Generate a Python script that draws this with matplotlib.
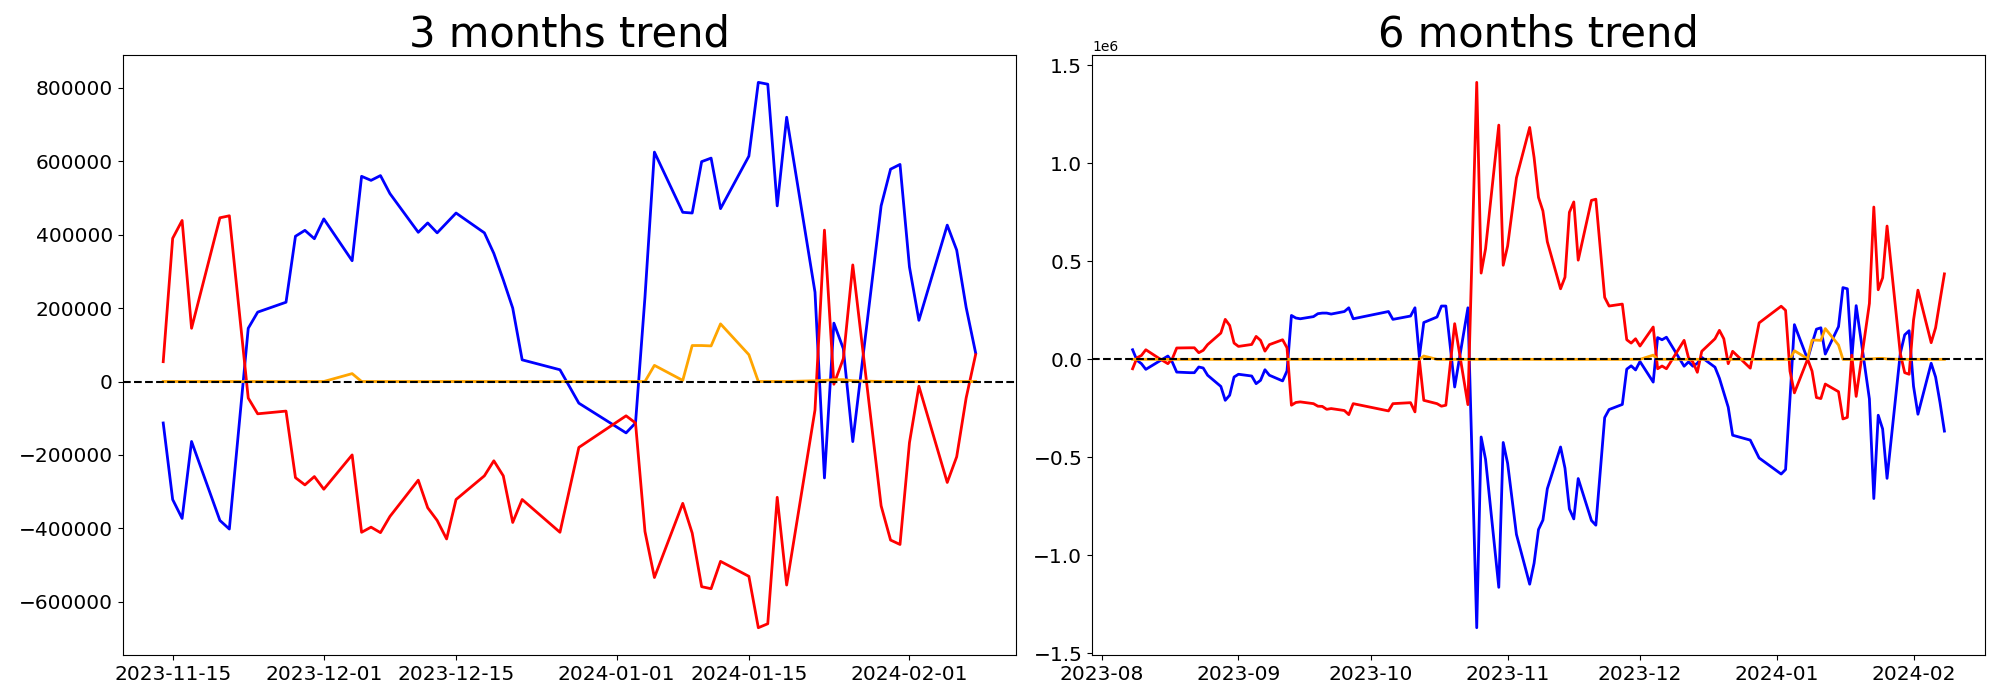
import matplotlib
matplotlib.use('Agg')
import matplotlib.pyplot as plt
import matplotlib.dates as mdates
import numpy as np

# 3 months data
dates_3m = ['2023-11-14', '2023-11-15', '2023-11-16', '2023-11-17', '2023-11-20', '2023-11-21', '2023-11-23', '2023-11-24',
            '2023-11-27', '2023-11-28', '2023-11-29', '2023-11-30', '2023-12-01', '2023-12-04', '2023-12-05', '2023-12-06', '2023-12-07', '2023-12-08',
            '2023-12-11', '2023-12-12', '2023-12-13', '2023-12-14', '2023-12-15', '2023-12-18', '2023-12-19', '2023-12-20', '2023-12-21', '2023-12-22',
            '2023-12-26', '2023-12-28', '2024-01-02', '2024-01-03', '2024-01-04', '2024-01-05', '2024-01-08', '2024-01-09', '2024-01-10', '2024-01-11', '2024-01-12',
            '2024-01-15', '2024-01-16', '2024-01-17', '2024-01-18', '2024-01-19', '2024-01-22', '2024-01-23', '2024-01-24', '2024-01-25', '2024-01-26',
            '2024-01-29', '2024-01-30', '2024-01-31', '2024-02-01', '2024-02-02', '2024-02-05', '2024-02-06', '2024-02-07', '2024-02-08']

red_3m = [54000, 390000, 438700, 145000, 446000, 451500, -45000, -88000,
          -80600, -262000, -281700, -259000, -293500, -200000, -410800, -396800, -411800, -367700,
          -268800, -344000, -378500, -429000, -321500, -257000, -216000, -257000, -384000, -321500,
          -410800, -179600, -93500, -113000, -408600, -534000, -332000, -413000, -559000, -564500, -490000,
          -530800, -670800, -660000, -315500, -554500, -77500, 412400, -7500, 62400, 317600,
          -338700, -432000, -444000, -166700, -12900, -275000, -205000, -45000, 73000]

blue_3m = [-113000, -321500, -373000, -163400, -378500, -402000, 145000, 189000,
           216000, 395700, 411800, 389000, 443000, 329000, 559000, 548000, 561000, 512000,
           406500, 432000, 405000, 432000, 459000, 405000, 349000, 277000, 200000, 59000,
           32000, -59000, -140000, -113000, 230000, 625000, 461000, 459000, 599000, 608600, 471000,
           614000, 815000, 810000, 478500, 720000, 243300, -262700, 159000, 89400, -163700,
           478500, 578500, 591400, 312000, 166700, 426000, 358000, 202000, 78500]

orange_3m = [0, 0, 0, 0, 0, 0, 0, 0,
             0, 0, 0, 0, 0, 21500, 0, 0, 0, 0,
             0, 0, 0, 0, 0, 0, 0, 0, 0, 0,
             0, 0, 0, 0, 0, 44000, 3000, 98000, 98000, 97000, 157000,
             73000, 0, 0, 0, 0, 2000, 3000, 5000, 5000, 2000,
             0, 0, 0, 0, 0, 0, 0, 0, 0]

# 6 months data (values in millions)
dates_6m = ['2023-08-08', '2023-08-09', '2023-08-10', '2023-08-11', '2023-08-14', '2023-08-16', '2023-08-17', '2023-08-18',
            '2023-08-21', '2023-08-22', '2023-08-23', '2023-08-24', '2023-08-25', '2023-08-28', '2023-08-29', '2023-08-30', '2023-08-31', '2023-09-01',
            '2023-09-04', '2023-09-05', '2023-09-06', '2023-09-07', '2023-09-08', '2023-09-11', '2023-09-12', '2023-09-13', '2023-09-14', '2023-09-15',
            '2023-09-18', '2023-09-19', '2023-09-20', '2023-09-21', '2023-09-22', '2023-09-25', '2023-09-26', '2023-09-27', '2023-10-05', '2023-10-06',
            '2023-10-10', '2023-10-11', '2023-10-12', '2023-10-13', '2023-10-16', '2023-10-17', '2023-10-18', '2023-10-20', '2023-10-23', '2023-10-25',
            '2023-10-26', '2023-10-27', '2023-10-30', '2023-10-31', '2023-11-01', '2023-11-03', '2023-11-06', '2023-11-07', '2023-11-08', '2023-11-09', '2023-11-10',
            '2023-11-13', '2023-11-14', '2023-11-15', '2023-11-16', '2023-11-17', '2023-11-20', '2023-11-21', '2023-11-23', '2023-11-24',
            '2023-11-27', '2023-11-28', '2023-11-29', '2023-11-30', '2023-12-01', '2023-12-04', '2023-12-05', '2023-12-06', '2023-12-07',
            '2023-12-11', '2023-12-12', '2023-12-13', '2023-12-14', '2023-12-15', '2023-12-18', '2023-12-19', '2023-12-20', '2023-12-21', '2023-12-22',
            '2023-12-26', '2023-12-28', '2024-01-02', '2024-01-03', '2024-01-04', '2024-01-05', '2024-01-08', '2024-01-09', '2024-01-10', '2024-01-11', '2024-01-12',
            '2024-01-15', '2024-01-16', '2024-01-17', '2024-01-18', '2024-01-19', '2024-01-22', '2024-01-23', '2024-01-24', '2024-01-25', '2024-01-26',
            '2024-01-29', '2024-01-30', '2024-01-31', '2024-02-01', '2024-02-02', '2024-02-05', '2024-02-06', '2024-02-07', '2024-02-08']

red_6m = [-0.048, 0.008, 0.02, 0.049, 0.005, -0.022, 0.003, 0.058,
          0.059, 0.059, 0.034, 0.046, 0.075, 0.134, 0.204, 0.173, 0.083, 0.066,
          0.076, 0.117, 0.097, 0.042, 0.075, 0.1, 0.059, -0.234, -0.22, -0.217,
          -0.226, -0.239, -0.24, -0.255, -0.251, -0.261, -0.282, -0.226, -0.263, -0.226,
          -0.221, -0.268, -0.002, -0.209, -0.226, -0.239, -0.234, 0.182, -0.231, 1.413,
          0.44, 0.564, 1.195, 0.48, 0.578, 0.926, 1.183, 1.03, 0.826, 0.757, 0.6,
          0.36, 0.419, 0.75, 0.803, 0.506, 0.811, 0.817, 0.316, 0.272,
          0.282, 0.1, 0.083, 0.105, 0.068, 0.165, -0.048, -0.034, -0.048,
          0.097, 0.008, -0.014, -0.066, 0.041, 0.105, 0.148, 0.105, -0.022, 0.041,
          -0.045, 0.186, 0.271, 0.25, -0.06, -0.171, 0.001, -0.06, -0.195, -0.2, -0.126,
          -0.165, -0.304, -0.296, 0.021, -0.189, 0.285, 0.777, 0.355, 0.416, 0.68,
          0.03, -0.068, -0.076, 0.2, 0.353, 0.085, 0.161, 0.3, 0.436]

blue_6m = [0.049, -0.005, -0.022, -0.051, -0.01, 0.017, -0.014, -0.065,
           -0.068, -0.068, -0.039, -0.044, -0.081, -0.138, -0.209, -0.183, -0.09, -0.076,
           -0.085, -0.124, -0.107, -0.053, -0.081, -0.11, -0.059, 0.224, 0.211, 0.207,
           0.218, 0.233, 0.236, 0.236, 0.231, 0.244, 0.263, 0.207, 0.244, 0.204,
           0.221, 0.263, 0.012, 0.188, 0.216, 0.272, 0.272, -0.141, 0.263, -1.369,
           -0.396, -0.51, -1.163, -0.424, -0.53, -0.893, -1.147, -1.04, -0.868, -0.82, -0.66,
           -0.447, -0.555, -0.763, -0.814, -0.608, -0.822, -0.846, -0.297, -0.256,
           -0.23, -0.05, -0.033, -0.054, -0.011, -0.116, 0.111, 0.1, 0.113,
           -0.035, -0.013, -0.035, -0.02, 0.01, -0.04, -0.096, -0.17, -0.244, -0.387,
           -0.412, -0.503, -0.585, -0.562, -0.2, 0.177, 0.0, 0.08, 0.154, 0.161, 0.027,
           0.167, 0.366, 0.36, 0.004, 0.274, -0.202, -0.71, -0.285, -0.355, -0.607,
           0.03, 0.125, 0.146, -0.137, -0.28, -0.02, -0.09, -0.22, -0.366]

orange_6m = [0, 0, 0, 0, 0, 0, 0, 0,
             0, 0, 0, 0, 0, 0, 0, 0, 0, 0,
             0, 0, 0, 0, 0, 0, 0, 0, 0, 0,
             0, 0, 0, 0, 0, 0, 0, 0, 0, 0,
             0, 0, 0, 0.017, 0, 0, 0, 0, 0, 0,
             0, 0, 0, 0, 0, 0, 0, 0, 0, 0, 0,
             0, 0, 0, 0, 0, 0, 0, 0, 0,
             0, 0, 0, 0, 0, 0.0215, 0, 0, 0,
             0, 0, 0, 0, 0, 0, 0, 0, 0, 0,
             0, 0, 0, 0, 0, 0.044, 0.003, 0.098, 0.098, 0.097, 0.157,
             0.073, 0, 0, 0, 0, 0.002, 0.003, 0.005, 0.005, 0.002,
             0, 0, 0, 0, 0, 0, 0, 0, 0]

x3 = np.array(dates_3m, dtype='datetime64[D]')
x6 = np.array(dates_6m, dtype='datetime64[D]')

fig = plt.figure(figsize=(20, 7), dpi=100)
ax1 = fig.add_axes([0.0613, 0.0643, 0.4468, 0.857])
ax2 = fig.add_axes([0.546, 0.0643, 0.4465, 0.857])

lw = 2

# left: 3 months
ax1.plot(x3, blue_3m, color='blue', linewidth=lw)
ax1.plot(x3, red_3m, color='red', linewidth=lw)
ax1.plot(x3, orange_3m, color='orange', linewidth=lw)
ax1.axhline(0, color='black', linestyle='--', linewidth=1.5)
ax1.set_title('3 months trend', fontsize=30)
ax1.xaxis.set_major_locator(mdates.DayLocator(bymonthday=[1, 15]))
ax1.xaxis.set_major_formatter(mdates.DateFormatter('%Y-%m-%d'))
ax1.tick_params(labelsize=14.5)

# right: 6 months
ax2.plot(x6, np.array(blue_6m) * 1e6, color='blue', linewidth=lw)
ax2.plot(x6, np.array(red_6m) * 1e6, color='red', linewidth=lw)
ax2.plot(x6, np.array(orange_6m) * 1e6, color='orange', linewidth=lw)
ax2.axhline(0, color='black', linestyle='--', linewidth=1.5)
ax2.set_title('6 months trend', fontsize=30)
ax2.xaxis.set_major_locator(mdates.MonthLocator())
ax2.xaxis.set_major_formatter(mdates.DateFormatter('%Y-%m'))
ax2.tick_params(labelsize=14.5)

plt.savefig('out.png')
